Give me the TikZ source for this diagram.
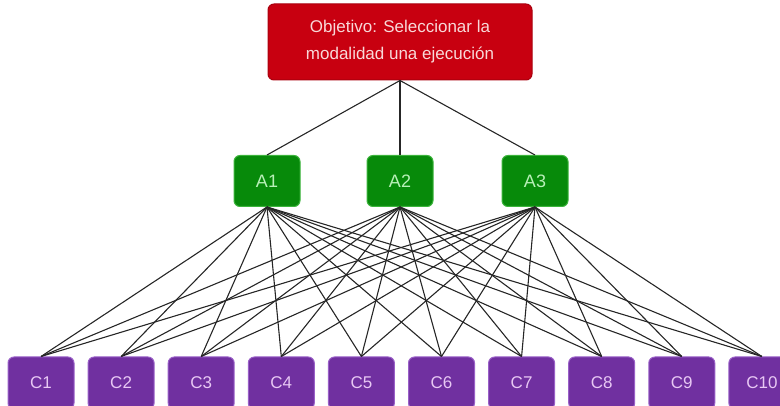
\documentclass[tikz,border=0pt]{standalone}
\usepackage{fontspec}
\setmainfont{Liberation Sans}
\definecolor{goalfill}{HTML}{C80010}
\definecolor{goaltext}{HTML}{F8D8D8}
\definecolor{critfill}{HTML}{078A0A}
\definecolor{critdraw}{HTML}{3CB43C}
\definecolor{crittext}{HTML}{B8F0B8}
\definecolor{altfill}{HTML}{7030A0}
\definecolor{altdraw}{HTML}{9A60C8}
\definecolor{alttext}{HTML}{E8C8F4}
\begin{document}
\begin{tikzpicture}[x=1pt,y=-1pt,
  box/.style={rounded corners=6pt, line width=1pt, inner sep=0pt, align=center},
  goal/.style={box, fill=goalfill, draw=goalfill!85!black, text=goaltext, minimum width=264pt, minimum height=76pt, font=\fontsize{17}{27}\selectfont},
  crit/.style={box, fill=critfill, draw=critdraw, text=crittext, minimum width=66pt, minimum height=51pt, font=\fontsize{18}{20}\selectfont},
  alt/.style={box, fill=altfill, draw=altdraw, text=alttext, minimum width=66pt, minimum height=52pt, font=\fontsize{17}{20}\selectfont},
  link/.style={line width=1.1pt, black!85}]
\useasboundingbox (0,0) rectangle (780,406);
\node[goal] (G) at (400,42) {Objetivo: Seleccionar la\\modalidad una ejecución};
\node[crit] (A1) at (267,181) {A1};
\node[crit] (A2) at (400,181) {A2};
\node[crit] (A3) at (535,181) {A3};
\foreach \i in {1,...,10} {
  \node[alt] (C\i) at ({41+80.1*(\i-1)},383) {C\i};
}
\foreach \a in {1,2,3} {
  \draw[link] (G.south) -- (A\a.north);
  \foreach \i in {1,...,10} {
    \draw[link] (A\a.south) -- (C\i.north);
  }
}
\end{tikzpicture}
\end{document}
